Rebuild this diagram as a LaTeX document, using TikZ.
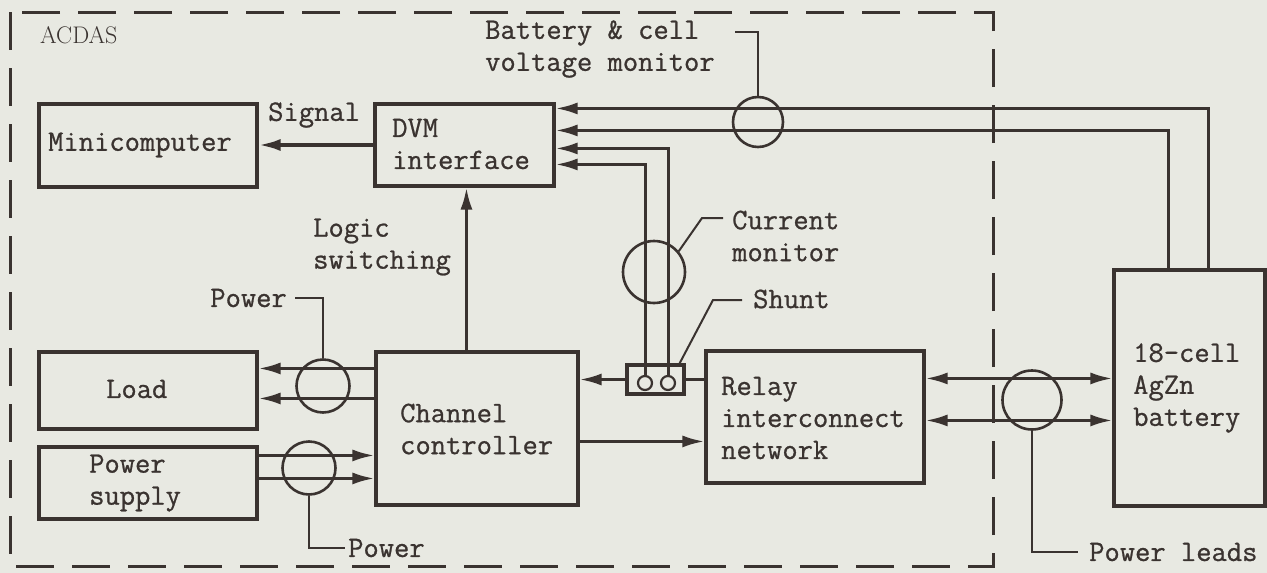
\documentclass[tikz,border=0pt]{standalone}
\usepackage{fontspec}
\newfontfamily\tw{Latin Modern Mono}[FakeBold=0.8]
\usetikzlibrary{arrows.meta,calc}
\definecolor{bg}{HTML}{E8E9E2}
\definecolor{ink}{HTML}{3A3330}
\begin{document}
\begin{tikzpicture}[x=1pt,y=-1pt,
  box/.style={draw=ink,line width=3.1pt,inner sep=0pt},
  conn/.style={draw=ink,line width=3pt,-{Latex[length=22pt,width=12pt]}},
  dconn/.style={draw=ink,line width=3pt,{Latex[length=22pt,width=12pt]}-{Latex[length=22pt,width=12pt]}},
  plain/.style={draw=ink,line width=3pt},
  lead/.style={draw=ink,line width=2pt},
  mon/.style={circle,draw=ink,line width=2.6pt,inner sep=0pt},
  txt/.style={text=ink,inner sep=0pt,font=\tw\fontsize{29.7}{32}\selectfont,align=left,anchor=west},
  border/.style={draw=ink,line width=3pt,dash pattern=on 38pt off 18pt}]
\path[fill=bg] (0,0) rectangle (1267,573);
\draw[border] (10,12) rectangle (993,566);
\node[text=ink,inner sep=0pt,anchor=west,font=\fontsize{24}{28}\selectfont] (acdas) at (40,35) {ACDAS};
% boxes
\node[box,minimum width=218pt,minimum height=83pt] (mini) at (148,145.5) {};
\node[box,minimum width=179pt,minimum height=82pt] (dvm) at (464.5,145) {};
\node[box,minimum width=218pt,minimum height=77pt] (load) at (148,390.5) {};
\node[box,minimum width=218pt,minimum height=72pt] (ps) at (148,483) {};
\node[box,minimum width=202pt,minimum height=153pt] (cc) at (477,428.5) {};
\node[box,minimum width=218pt,minimum height=132pt] (relay) at (815,417) {};
\node[box,minimum width=151pt,minimum height=236pt] (batt) at (1189.5,388) {};
\node[box,minimum width=57pt,minimum height=29pt] (shunt) at (655.5,379.5) {};
\node[mon,line width=2.2pt,minimum size=14pt] (sc1) at (645,383) {};
\node[mon,line width=2.2pt,minimum size=14pt] (sc2) at (668,383) {};
% texts
\node[txt] (tmini) at (48,145) {Minicomputer};
\node[txt] (tdvm) at (392,144) {DVM\\interface};
\node[txt] (tload) at (106,389) {Load};
\node[txt] (tps) at (89,483) {Power\\supply};
\node[txt] (tcc) at (400,429) {Channel\\controller};
\node[txt] (trelay) at (721,418) {Relay\\interconnect\\network};
\node[txt] (tbatt) at (1133,388) {18-cell\\AgZn\\battery};
\node[txt] (tsig) at (268,115) {Signal};
\node[txt] (tlogic) at (313,247) {Logic\\switching};
\node[txt] (tbv) at (485,49) {Battery \& cell\\voltage monitor};
\node[txt] (tcur) at (732,236) {Current\\monitor};
\node[txt] (tshunt) at (753,299) {Shunt};
\node[txt,anchor=east] (tpow1) at (287,298) {Power};
\node[txt] (tpow2) at (348,548) {Power};
\node[txt] (tleads) at (1089,552) {Power leads};
% connectors
\draw[conn,line width=3.6pt] (dvm.west) -- (mini.east|-dvm.west);
\draw[conn] ([xshift=96pt]batt.north west) |- ($(dvm.north east)+(0,6)$);
\draw[conn] ([xshift=56pt]batt.north west) |- ($(dvm.north east)+(0,28)$);
\draw[conn] (sc2.north) |- ($(dvm.north east)+(0,46)$);
\draw[conn] (sc1.north) |- ($(dvm.north east)+(0,62)$);
\draw[conn] (shunt.west) -- (cc.east|-shunt.west);
\draw[plain] (relay.west|-shunt.east) -- (shunt.east);
\draw[conn] ($(cc.north east)+(0,91)$) -- (relay.west|-{$(cc.north east)+(0,91)$});
\coordinate (ls) at ($(cc.north west)+(92,0)$);
\draw[conn] (ls) -- (ls|-dvm.south);
\draw[conn] ($(cc.north west)+(0,18)$) -- (load.east|-{$(cc.north west)+(0,18)$});
\draw[conn] ($(cc.north west)+(0,48)$) -- (load.east|-{$(cc.north west)+(0,48)$});
\draw[conn] ($(ps.north east)+(0,10)$) -- (cc.west|-{$(ps.north east)+(0,10)$});
\draw[conn] ($(ps.north east)+(0,33)$) -- (cc.west|-{$(ps.north east)+(0,33)$});
\draw[dconn] ($(relay.north east)+(0,29)$) -- (batt.west|-{$(relay.north east)+(0,29)$});
\draw[dconn] ($(relay.north east)+(0,71)$) -- (batt.west|-{$(relay.north east)+(0,71)$});
% monitors
\node[mon,minimum size=50pt] (monBV) at (758,122) {};
\node[mon,minimum size=62pt] (monCur) at (654,272) {};
\node[mon,minimum size=53pt] (monP1) at (323,386) {};
\node[mon,minimum size=53pt] (monP2) at (309,468) {};
\node[mon,minimum size=59pt] (monPL) at (1032,400) {};
% leaders
\coordinate (bvc) at (735,32);
\draw[lead] (monBV.north) |- (bvc);
\coordinate (curc) at (723,218);
\draw[lead] (monCur.40) -- (702,218) -- (curc);
\coordinate (shc) at (742,300);
\draw[lead] ($(shunt.north east)+(-6,0)$) -- (713,300) -- (shc);
\coordinate (p1c) at (295,298);
\draw[lead] (monP1.north) |- (p1c);
\coordinate (p2c) at (345,548);
\draw[lead] (monP2.south) |- (p2c);
\coordinate (plc) at (1078,552);
\draw[lead] (monPL.south) |- (plc);
\end{tikzpicture}
\end{document}
